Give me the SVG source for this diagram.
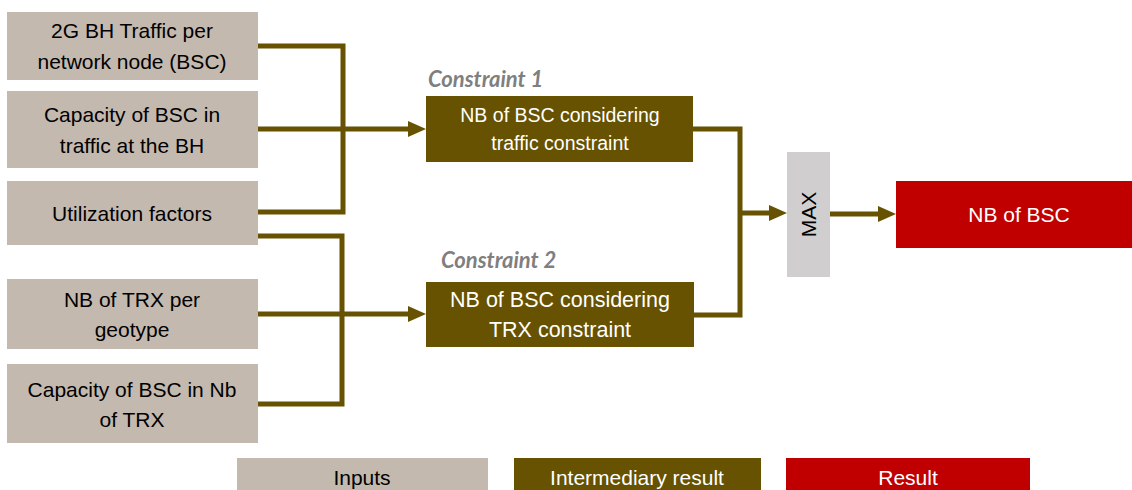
<svg xmlns="http://www.w3.org/2000/svg" width="1132" height="490" viewBox="0 0 1132 490">
<style>
.inp{fill:#c4b9ae}
.mid{fill:#665200}
.res{fill:#c00000}
.t{font-family:"Liberation Sans",Arial,sans-serif;font-size:21px;text-anchor:middle}
.dk{fill:#000}
.wt{fill:#fff}
.lbl{font-family:Lato,"Open Sans",sans-serif;font-weight:bold;font-style:italic;font-size:22px;fill:#7f7f7f}
.con{fill:none;stroke:#665200;stroke-width:5}
</style>
<defs>
<marker id="ah" markerUnits="userSpaceOnUse" markerWidth="18" markerHeight="16" refX="0" refY="8" orient="auto" viewBox="0 0 18 16">
<path d="M0,0 L18,8 L0,16 z" fill="#665200"/>
</marker>
</defs>
<rect width="1132" height="490" fill="#fff"/>
<g id="connectors">
<path class="con" d="M258,46 H343 V212 H258"/>
<path class="con" d="M258,129 H408" marker-end="url(#ah)"/>
<path class="con" d="M258,236 H342 V404 H258"/>
<path class="con" d="M258,314 H408" marker-end="url(#ah)"/>
<path class="con" d="M693,129 H740 V315 H693"/>
<path class="con" d="M740,213 H769" marker-end="url(#ah)"/>
<path class="con" d="M830,214 H878" marker-end="url(#ah)"/>
</g>
<g id="in1"><rect class="inp" x="7" y="12" width="251" height="68"/><text class="t dk" x="132" y="38">2G BH Traffic per</text><text class="t dk" x="132" y="69">network node (BSC)</text></g>
<g id="in2"><rect class="inp" x="7" y="91" width="251" height="77"/><text class="t dk" x="132" y="122">Capacity of BSC in</text><text class="t dk" x="132" y="153">traffic at the BH</text></g>
<g id="in3"><rect class="inp" x="7" y="181" width="251" height="64"/><text class="t dk" x="132" y="221">Utilization factors</text></g>
<g id="in4"><rect class="inp" x="7" y="279" width="251" height="70"/><text class="t dk" x="132" y="307">NB of TRX per</text><text class="t dk" x="132" y="337">geotype</text></g>
<g id="in5"><rect class="inp" x="7" y="364" width="251" height="79"/><text class="t dk" x="132" y="397">Capacity of BSC in Nb</text><text class="t dk" x="132" y="427">of TRX</text></g>
<g id="c1"><text class="lbl" x="428" y="87">Constraint 1</text><rect class="mid" x="426" y="96" width="267" height="66"/><text class="t wt" x="560" y="122" style="font-size:19.5px">NB of BSC considering</text><text class="t wt" x="560" y="150" style="font-size:19.5px">traffic constraint</text></g>
<g id="c2"><text class="lbl" x="441" y="268">Constraint 2</text><rect class="mid" x="426" y="282" width="268" height="65"/><text class="t wt" x="560" y="307" style="font-size:21.5px">NB of BSC considering</text><text class="t wt" x="560" y="337" style="font-size:21.5px">TRX constraint</text></g>
<g id="max"><rect x="787" y="152" width="43" height="125" fill="#d0cece"/><text class="t dk" transform="translate(816,214.5) rotate(-90)" x="0" y="0">MAX</text></g>
<g id="result"><rect class="res" x="896" y="181" width="236" height="67"/><text class="t wt" x="1019" y="222">NB of BSC</text></g>
<g id="legend">
<rect class="inp" x="237" y="458" width="251" height="32"/><text class="t dk" x="362" y="485">Inputs</text>
<rect class="mid" x="514" y="458" width="247" height="32"/><text class="t wt" x="637" y="485">Intermediary result</text>
<rect class="res" x="786" y="458" width="244" height="32"/><text class="t wt" x="908" y="485">Result</text>
</g>
</svg>
